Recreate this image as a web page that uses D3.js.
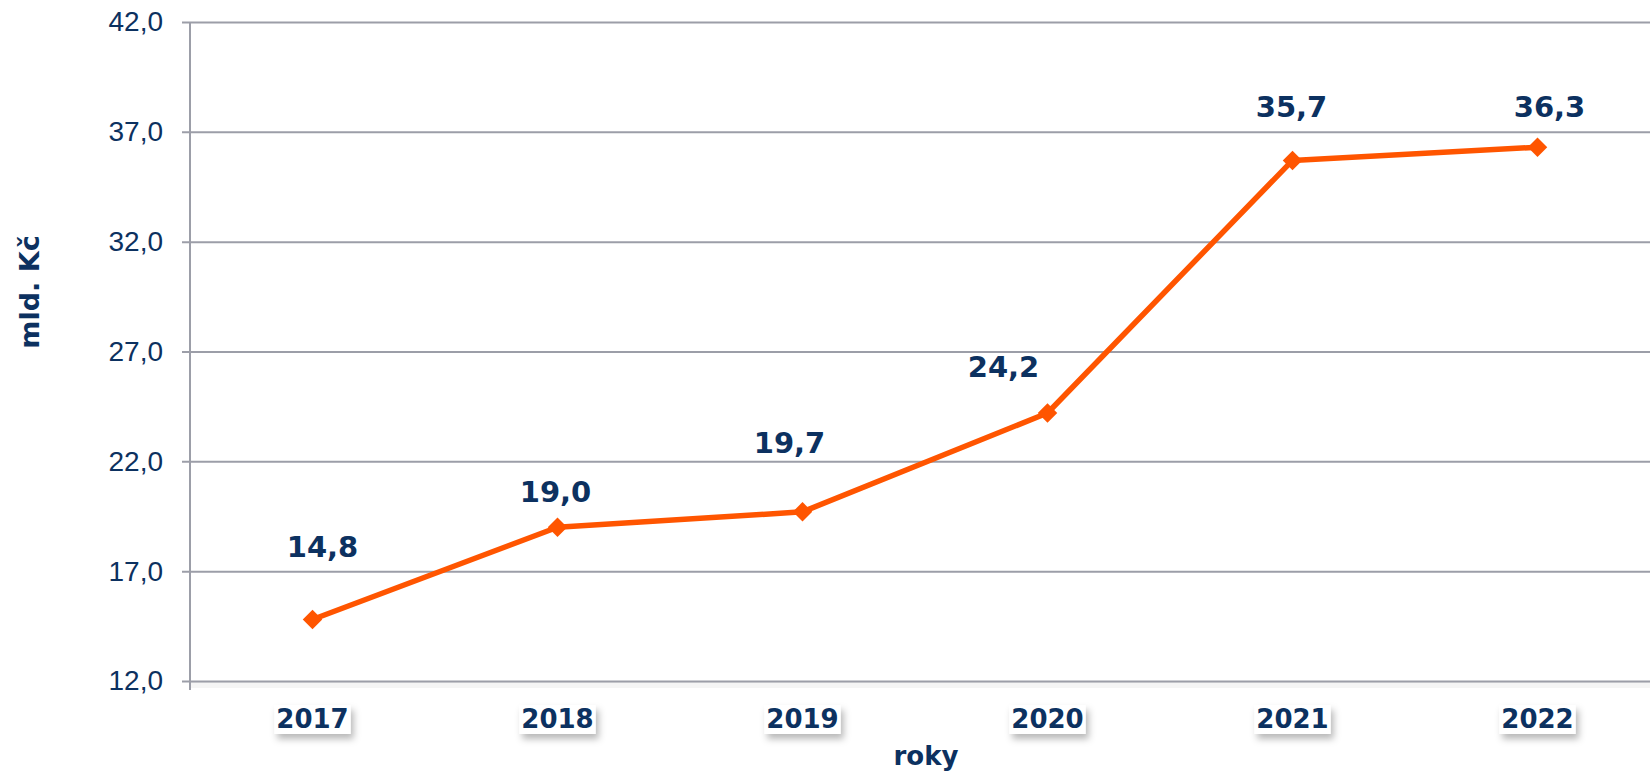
<!DOCTYPE html>
<html>
<head>
<meta charset="utf-8">
<script src="https://cdn.jsdelivr.net/npm/d3@7"></script>
<style>
  html, body { margin: 0; padding: 0; background: #fff; }
  svg { display: block; font-family: "DejaVu Sans", Verdana, sans-serif; }
</style>
</head>
<body>
<div class="chart"></div>
<script>
// data
const years = ['2017', '2018', '2019', '2020', '2021', '2022'];
const values = [14.8, 19.0, 19.7, 24.2, 35.7, 36.3];
const yTicks = [12, 17, 22, 27, 32, 37, 42];
const yTitle = 'mld. Kč';
const xTitle = 'roky';

const W = 1650, H = 774;
const margin = { top: 22, left: 190, bottom: 93 };
const plotBottom = H - margin.bottom;
const navy = '#0c3160';
const grid = '#9c9ea8';
const orange = '#ff5500';

// hand placed label shifts (like the original)
const labelShift = [[10, -62], [-2, -25], [-13, -59], [-44, -36], [-1, -43], [12, -30]];

const fmt = v => d3.format('.1f')(v).replace('.', ',');

const svg = d3.select('.chart')
  .append('svg')
  .attr('width', W)
  .attr('height', H);

const defs = svg.append('defs');
const shadow = defs.append('filter')
  .attr('id', 'shadow')
  .attr('x', '-30%').attr('y', '-50%')
  .attr('width', '160%').attr('height', '220%');
shadow.append('feDropShadow')
  .attr('dx', 3).attr('dy', 5)
  .attr('stdDeviation', 3.5)
  .attr('flood-color', '#000')
  .attr('flood-opacity', 0.28);

const x = d3.scaleBand()
  .domain(years)
  .range([margin.left, margin.left + 245 * years.length]);

const y = d3.scaleLinear()
  .domain([12, 42])
  .range([plotBottom, margin.top]);

// gridlines + y axis
const yAxis = svg.append('g')
  .attr('transform', `translate(${margin.left},0)`)
  .call(d3.axisLeft(y).tickValues(yTicks).tickSize(8).tickFormat(fmt).tickPadding(19));

yAxis.select('.domain').remove();
yAxis.selectAll('.tick line')
  .attr('x1', -8).attr('x2', W)
  .attr('stroke', grid).attr('stroke-width', 2);
yAxis.selectAll('.tick text')
  .attr('fill', navy)
  .style('font-size', '28px');

// faint shade under the category axis
svg.append('rect')
  .attr('x', margin.left).attr('y', plotBottom + 1)
  .attr('width', W - margin.left).attr('height', 6)
  .attr('fill', '#000').attr('opacity', 0.04);

// vertical axis line
svg.append('line')
  .attr('x1', margin.left).attr('x2', margin.left)
  .attr('y1', margin.top).attr('y2', plotBottom + 9)
  .attr('stroke', grid).attr('stroke-width', 2);

// category labels with boxed shadow
const xl = svg.append('g').selectAll('g')
  .data(years)
  .join('g')
  .attr('transform', d => `translate(${x(d) + x.bandwidth() / 2},${plotBottom + 47})`);

xl.append('text')
  .attr('text-anchor', 'middle')
  .attr('fill', navy)
  .style('font-size', '26px')
  .style('font-weight', 'bold')
  .text(d => d);

xl.each(function () {
  const g = d3.select(this);
  const b = g.select('text').node().getBBox();
  g.insert('rect', 'text')
    .attr('x', b.x - 2).attr('y', b.y + 1)
    .attr('width', b.width + 4).attr('height', b.height - 1)
    .attr('fill', '#fff')
    .attr('filter', 'url(#shadow)');
});

// line
const line = d3.line()
  .x((d, i) => x(years[i]) + x.bandwidth() / 2)
  .y(d => y(d));

svg.append('path')
  .datum(values)
  .attr('d', line)
  .attr('fill', 'none')
  .attr('stroke', orange)
  .attr('stroke-width', 5.5)
  .attr('stroke-linejoin', 'round');

svg.append('g').selectAll('path')
  .data(values)
  .join('path')
  .attr('d', d3.symbol(d3.symbolSquare, 190))
  .attr('transform', (d, i) => `translate(${x(years[i]) + x.bandwidth() / 2},${y(d)}) rotate(45)`)
  .attr('fill', orange);

// value labels
svg.append('g').selectAll('text')
  .data(values)
  .join('text')
  .attr('x', (d, i) => x(years[i]) + x.bandwidth() / 2 + labelShift[i][0])
  .attr('y', (d, i) => y(d) + labelShift[i][1])
  .attr('text-anchor', 'middle')
  .attr('fill', navy)
  .style('font-size', '29px')
  .style('font-weight', 'bold')
  .text(fmt);

// axis titles
svg.append('text')
  .attr('x', 926).attr('y', 765)
  .attr('text-anchor', 'middle')
  .attr('fill', navy)
  .style('font-size', '26px')
  .style('font-weight', 'bold')
  .text(xTitle);

svg.append('text')
  .attr('transform', 'translate(39,292) rotate(-90)')
  .attr('text-anchor', 'middle')
  .attr('fill', navy)
  .style('font-size', '27px')
  .style('font-weight', 'bold')
  .text(yTitle);
</script>
</body>
</html>
